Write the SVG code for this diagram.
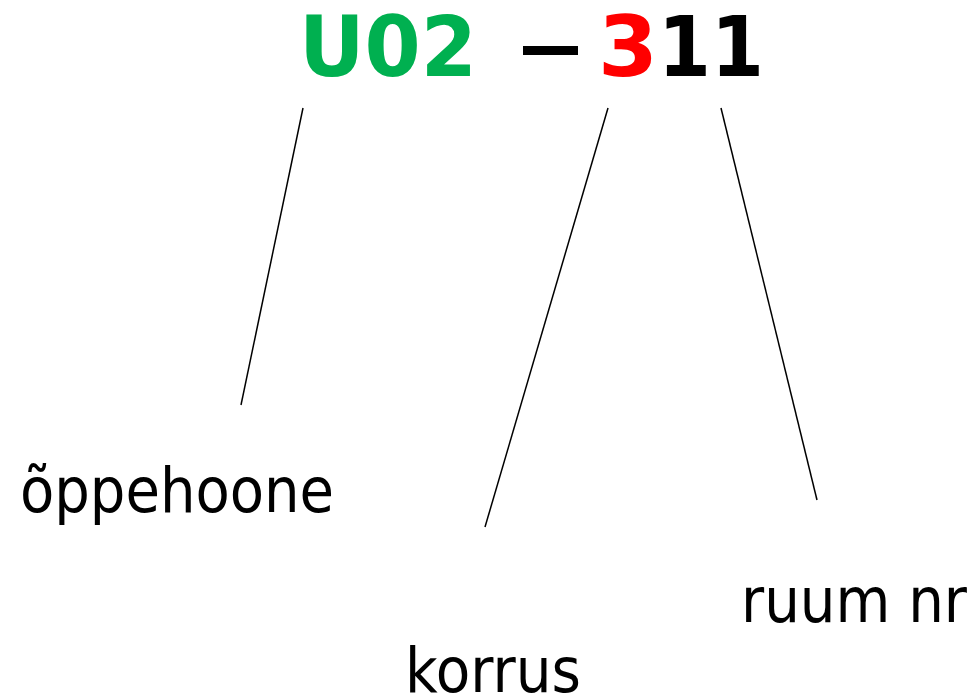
<svg xmlns="http://www.w3.org/2000/svg" width="976" height="700" viewBox="0 0 976 700">
<style>
.t{font-family:"DejaVu Sans",Verdana,sans-serif;font-weight:bold;font-size:84px}
.l{font-family:"DejaVu Sans",Tahoma,sans-serif;font-size:62px;fill:#000}
.c{stroke:#000;stroke-width:1.5;fill:none}
</style>
<rect width="976" height="700" fill="#fff"/>
<g id="code">
<text class="t" x="299" y="76" fill="#00B050" textLength="178" lengthAdjust="spacingAndGlyphs">U02</text>
<rect x="523" y="46" width="55" height="9" fill="#000"/>
<text class="t" x="598" y="76" fill="#FF0000" textLength="60" lengthAdjust="spacingAndGlyphs">3</text>
<text class="t" x="658" y="76" fill="#000" textLength="106" lengthAdjust="spacingAndGlyphs">11</text>
</g>
<g id="connectors">
<line class="c" x1="303" y1="108" x2="241" y2="405"/>
<line class="c" x1="608" y1="108" x2="485" y2="527"/>
<line class="c" x1="721" y1="108" x2="817" y2="500"/>
</g>
<g id="oppehoone"><text class="l" x="20" y="512" textLength="314" lengthAdjust="spacingAndGlyphs">õppehoone</text></g>
<g id="korrus"><text class="l" x="405" y="692" textLength="176" lengthAdjust="spacingAndGlyphs">korrus</text></g>
<g id="ruum"><text class="l" x="741" y="622" textLength="226" lengthAdjust="spacingAndGlyphs">ruum nr</text></g>
</svg>
